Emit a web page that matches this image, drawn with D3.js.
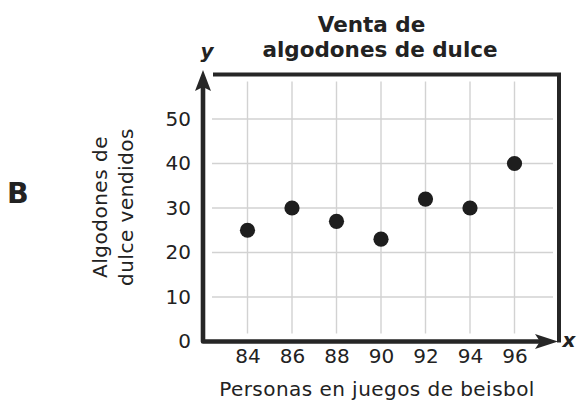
<!DOCTYPE html>
<html>
<head>
<meta charset="utf-8">
<script src="https://cdn.jsdelivr.net/npm/d3@7"></script>
<style>
  html, body { margin: 0; padding: 0; background: #fff; }
  svg { display: block; }
  text { font-family: "DejaVu Sans", Verdana, sans-serif; fill: #222; }
</style>
</head>
<body>
<svg id="chart" width="579" height="403"></svg>
<script>
// ---- data ----
const people = [84, 86, 88, 90, 92, 94, 96];
const sold = [25, 30, 27, 23, 32, 30, 40];
const xTicks = [84, 86, 88, 90, 92, 94, 96];
const yTicks = [0, 10, 20, 30, 40, 50];
const titleLines = ["Venta de", "algodones de dulce"];
const yLabelLines = ["Algodones de", "dulce vendidos"];
const xLabel = "Personas en juegos de beisbol";
const panelLetter = "B";

const svg = d3.select("#chart");
const ink = "#262626";

const x = d3.scaleLinear().domain([82, 98]).range([203, 559]);
const y = d3.scaleLinear().domain([0, 60]).range([341.5, 74.5]);

// grid
const grid = svg.append("g").attr("stroke", "#d2d2d2").attr("stroke-width", 1.4);
grid.selectAll("line.v").data(xTicks).join("line")
  .attr("x1", d => x(d)).attr("x2", d => x(d))
  .attr("y1", y(60) + 7).attr("y2", y(0) - 8);
grid.selectAll("line.h").data(yTicks.filter(d => d > 0)).join("line")
  .attr("x1", x(82) + 9).attr("x2", x(98) - 6)
  .attr("y1", d => y(d)).attr("y2", d => y(d));

// frame (top and right)
svg.append("path")
  .attr("d", `M${x(82) + 10},${y(60)} L${x(98)},${y(60)} L${x(98)},${y(0) + 1}`)
  .attr("fill", "none").attr("stroke", ink).attr("stroke-width", 4);

// main axes with arrows
const yTip = 70, xTip = 558;
svg.append("path")
  .attr("d", `M${x(82)},${yTip + 14} L${x(82)},${y(0)} L${xTip - 14},${y(0)}`)
  .attr("fill", "none").attr("stroke", ink).attr("stroke-width", 4.6)
  .attr("stroke-linejoin", "round");
svg.append("path")
  .attr("d", `M${x(82)},${yTip} L${x(82) + 8},${yTip + 21} L${x(82)},${yTip + 17} L${x(82) - 8},${yTip + 21} Z`)
  .attr("fill", ink);
svg.append("path")
  .attr("d", `M${xTip},${y(0)} L${xTip - 23},${y(0) - 7.5} L${xTip - 18},${y(0)} L${xTip - 23},${y(0) + 7.5} Z`)
  .attr("fill", ink);

// tick labels via axes
const yAxis = svg.append("g").attr("transform", `translate(${x(82)},0)`)
  .call(d3.axisLeft(y).tickValues(yTicks).tickSize(0).tickPadding(12));
yAxis.select(".domain").remove();
yAxis.selectAll("text").attr("font-size", 20).attr("fill", "#222")
  .style("font-family", '"DejaVu Sans", Verdana, sans-serif');

const xAxis = svg.append("g").attr("transform", `translate(0,${y(0)})`)
  .call(d3.axisBottom(x).tickValues(xTicks).tickSize(0).tickPadding(7.5));
xAxis.select(".domain").remove();
xAxis.selectAll("text").attr("font-size", 20).attr("fill", "#222")
  .style("font-family", '"DejaVu Sans", Verdana, sans-serif');

// points
svg.append("g").selectAll("circle").data(people).join("circle")
  .attr("cx", d => x(d)).attr("cy", (d, i) => y(sold[i])).attr("r", 7.6)
  .attr("fill", "#1e1e1e");

// title
svg.append("text").attr("x", 371.5).attr("y", 31.5).attr("text-anchor", "middle")
  .attr("font-size", 21.5).attr("font-weight", "bold").text(titleLines[0]);
svg.append("text").attr("x", 380).attr("y", 57).attr("text-anchor", "middle")
  .attr("font-size", 21.5).attr("font-weight", "bold").text(titleLines[1]);

// axis letters
svg.append("text").attr("x", 207).attr("y", 58).attr("text-anchor", "middle")
  .attr("font-size", 20).attr("font-weight", "bold").attr("font-style", "italic").text("y");
svg.append("text").attr("x", 569).attr("y", 347).attr("text-anchor", "middle")
  .attr("font-size", 20).attr("font-weight", "bold").attr("font-style", "italic").text("x");

// y label
const yl = svg.append("text").attr("transform", "translate(0,207) rotate(-90)")
  .attr("text-anchor", "middle").attr("font-size", 20).attr("letter-spacing", 0.5);
yl.append("tspan").attr("x", 0).attr("y", 107).text(yLabelLines[0]);
yl.append("tspan").attr("x", 0).attr("y", 133).text(yLabelLines[1]);

// x label
svg.append("text").attr("x", 377).attr("y", 396).attr("text-anchor", "middle")
  .attr("font-size", 20).attr("letter-spacing", 0.45).text(xLabel);

// panel letter
svg.append("text").attr("x", 7).attr("y", 203)
  .attr("font-size", 28.5).attr("font-weight", "bold").text(panelLetter);
</script>
</body>
</html>
